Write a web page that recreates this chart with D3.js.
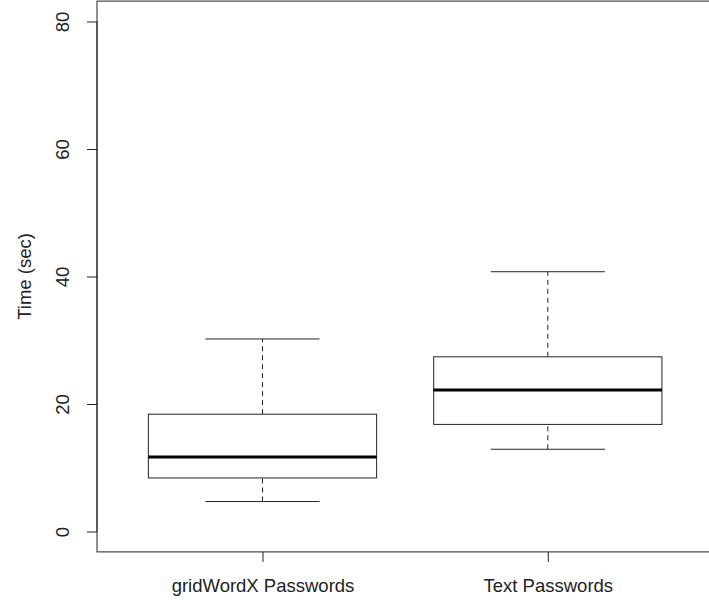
<!DOCTYPE html>
<html>
<head>
<meta charset="utf-8">
<script src="https://cdn.jsdelivr.net/npm/d3@7"></script>
<style>
    body { margin: 0; background: #fff; }
    svg { display: block; }
    text { font-family: "Liberation Sans", Arial, sans-serif; fill: #222; }
</style>
</head>
<body>
<svg id="chart" width="709" height="605"></svg>
<script>
// data
const groups = ['gridWordX Passwords', 'Text Passwords'];
const lowerWhisker = [4.7, 12.9];
const q1 = [8.4, 16.8];
const medians = [11.7, 22.2];
const q3 = [18.4, 27.4];
const upperWhisker = [30.2, 40.75];
const yTicks = [0, 20, 40, 60, 80];
const yLabel = 'Time (sec)';

const boxData = groups.map((g, i) => ({
    name: g, pos: i + 1,
    lo: lowerWhisker[i], q1: q1[i], med: medians[i], q3: q3[i], hi: upperWhisker[i]
}));

const WIDTH = 709, HEIGHT = 605;
const PLOT = {left: 97, right: 713.3, top: 1.1, bottom: 551.9};

// R style: x from 0.5..n+0.5 widened by 4%, y limits 0..80 widened by 4%
const xScale = d3.scaleLinear()
    .domain([0.42, 2.58])
    .range([PLOT.left, PLOT.right]);
const yScale = d3.scaleLinear()
    .domain([-3.2, 83.2])
    .range([PLOT.bottom, PLOT.top]);

const svg = d3.select('#chart');
svg.append('rect').attr('width', WIDTH).attr('height', HEIGHT).attr('fill', '#fff');

const boxW = (xScale(1.4) - xScale(1)) ; // half box width (boxwex 0.8)
const capW = boxW / 2;

const boxes = svg.append('g').attr('id', 'boxes')
    .selectAll('g')
    .data(boxData)
    .join('g');

// dashed whiskers
boxes.append('line')
    .attr('x1', d => xScale(d.pos)).attr('x2', d => xScale(d.pos))
    .attr('y1', d => yScale(d.q3)).attr('y2', d => yScale(d.hi))
    .attr('stroke', '#222').attr('stroke-dasharray', '5,4');
boxes.append('line')
    .attr('x1', d => xScale(d.pos)).attr('x2', d => xScale(d.pos))
    .attr('y1', d => yScale(d.lo)).attr('y2', d => yScale(d.q1))
    .attr('stroke', '#222').attr('stroke-dasharray', '5,4');

// staples
['hi', 'lo'].forEach(k => {
    boxes.append('line')
        .attr('x1', d => xScale(d.pos) - capW).attr('x2', d => xScale(d.pos) + capW)
        .attr('y1', d => yScale(d[k])).attr('y2', d => yScale(d[k]))
        .attr('stroke', '#222');
});

// boxes
boxes.append('rect')
    .attr('x', d => xScale(d.pos) - boxW)
    .attr('width', 2 * boxW)
    .attr('y', d => yScale(d.q3))
    .attr('height', d => yScale(d.q1) - yScale(d.q3))
    .attr('fill', '#fff').attr('stroke', '#222');

// medians
boxes.append('line')
    .attr('x1', d => xScale(d.pos) - boxW).attr('x2', d => xScale(d.pos) + boxW)
    .attr('y1', d => yScale(d.med)).attr('y2', d => yScale(d.med))
    .attr('stroke', '#000').attr('stroke-width', 3);

// plot frame
svg.append('rect')
    .attr('x', PLOT.left).attr('y', PLOT.top)
    .attr('width', PLOT.right - PLOT.left).attr('height', PLOT.bottom - PLOT.top)
    .attr('fill', 'none').attr('stroke', '#222');

// y axis
const yAxis = d3.axisLeft(yScale).tickValues(yTicks).tickSize(10).tickPadding(0).tickSizeOuter(0);
const yAxisG = svg.append('g')
    .attr('transform', `translate(${PLOT.left}, 0)`)
    .call(yAxis);
yAxisG.select('.domain').remove();
yAxisG.append('line')
    .attr('y1', yScale(yTicks[0])).attr('y2', yScale(yTicks[yTicks.length - 1]))
    .attr('stroke', '#222');
yAxisG.selectAll('.tick line').attr('stroke', '#222');
yAxisG.selectAll('.tick text')
    .attr('x', null).attr('dy', null)
    .attr('transform', 'translate(-28.5, 0) rotate(-90)')
    .attr('text-anchor', 'middle')
    .style('font-size', '18.5px').attr('fill', '#222');

// x axis
const xAxis = d3.axisBottom(xScale)
    .tickValues(boxData.map(d => d.pos))
    .tickFormat((d, i) => groups[i])
    .tickSize(10).tickSizeOuter(0);
const xAxisG = svg.append('g')
    .attr('transform', `translate(0, ${PLOT.bottom})`)
    .call(xAxis);
xAxisG.select('.domain').remove();
xAxisG.selectAll('.tick line').attr('stroke', '#222');
xAxisG.selectAll('.tick text')
    .attr('y', 40).attr('dy', null)
    .style('font-size', '18.5px').attr('fill', '#222');

// y label
svg.append('text')
    .attr('transform', `translate(31, ${(PLOT.top + PLOT.bottom) / 2}) rotate(-90)`)
    .attr('text-anchor', 'middle')
    .style('font-size', '18.5px')
    .text(yLabel);
</script>
</body>
</html>
